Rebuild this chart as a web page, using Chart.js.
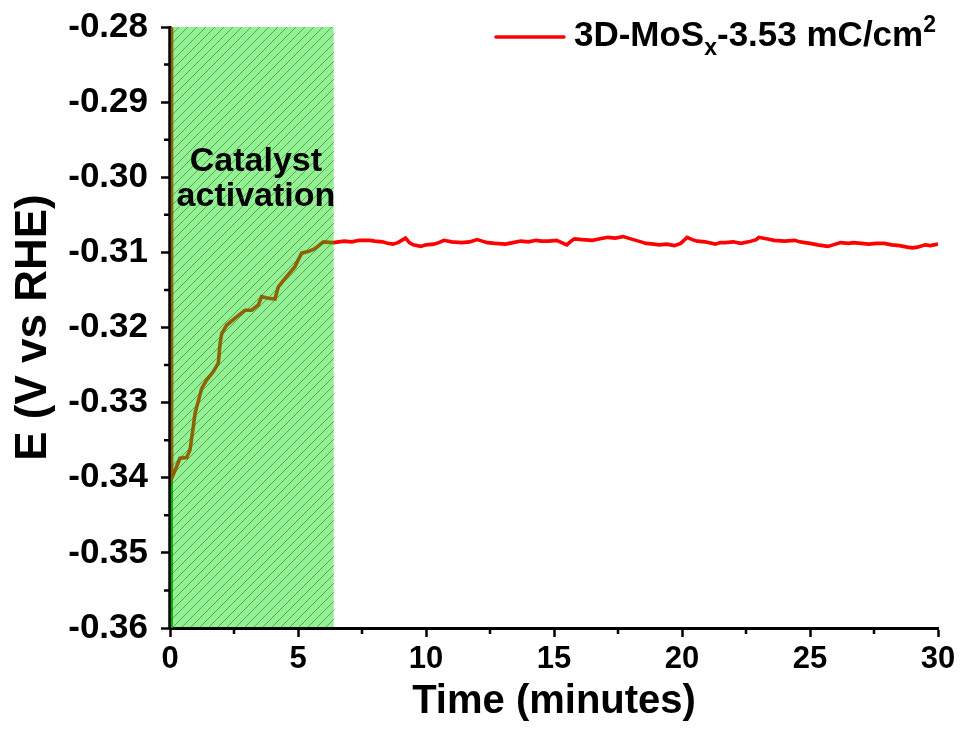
<!DOCTYPE html>
<html><head><meta charset="utf-8">
<script src="https://cdn.jsdelivr.net/npm/chart.js@4.4.1/dist/chart.umd.min.js"></script>
<style>html,body{margin:0;padding:0;background:#fff}canvas{display:block}</style>
</head><body>
<canvas id="c" width="961" height="732"></canvas>
<script>
// ---- data ----
const timeMin = [0.06, 0.06, 0.2, 0.39, 0.65, 0.78, 0.91, 0.98, 1.24, 1.43, 1.69, 1.89, 1.95, 2.02, 2.21, 2.60, 2.93, 3.19, 3.45, 3.58, 3.84, 4.10, 4.23, 4.56, 4.88, 5.14, 5.40, 5.66, 5.99, 6.38,
  6.6, 6.8, 7.1, 7.4, 7.8, 8.0, 8.3, 8.5, 8.7, 8.9, 9.1, 9.2, 9.35, 9.5, 9.8, 10.0, 10.3, 10.5, 10.7, 11.0, 11.4, 11.7, 12.0, 12.2, 12.4, 12.7, 13.1, 13.4, 13.7, 14.0, 14.3, 14.5, 14.8, 15.1, 15.3, 15.5, 15.7, 15.8, 16.1, 16.5, 16.8, 17.1, 17.4, 17.7, 18.0, 18.2, 18.4, 18.6, 18.9, 19.1, 19.4, 19.7, 19.95, 20.2, 20.4, 20.6, 20.9, 21.3, 21.5, 21.7, 22.0, 22.3, 22.6, 22.9, 23.0, 23.3, 23.6, 24.0, 24.4, 24.6, 24.8, 25.0, 25.3, 25.5, 25.7, 25.9, 26.2, 26.5, 26.7, 27.0, 27.3, 27.6, 27.9, 28.2, 28.5, 28.8, 29.0, 29.2, 29.5, 29.7, 30.0];
const potentialV = [-0.27, -0.3401, -0.3390, -0.3374, -0.3373, -0.3363, -0.3332, -0.3314, -0.3281, -0.3270, -0.3259, -0.3247, -0.3223, -0.3208, -0.3197, -0.3186, -0.3177, -0.3177, -0.3170, -0.3159, -0.3161, -0.3162, -0.3146, -0.3132, -0.3119, -0.3101, -0.3099, -0.3095, -0.3086, -0.3087,
  -0.3086, -0.3085, -0.3086, -0.3084, -0.3084, -0.3085, -0.3086, -0.3088, -0.3089, -0.3087, -0.3083, -0.3081, -0.3087, -0.3090, -0.3092, -0.3090, -0.3089, -0.3087, -0.3084, -0.3086, -0.3087, -0.3086, -0.3083, -0.3085, -0.3087, -0.3088, -0.3089, -0.3087, -0.3085, -0.3086, -0.3084, -0.3085, -0.3085, -0.3084, -0.3087, -0.3090, -0.3084, -0.3082, -0.3083, -0.3084, -0.3082, -0.3080, -0.3081, -0.3079, -0.3082, -0.3084, -0.3086, -0.3088, -0.3089, -0.3090, -0.3089, -0.3091, -0.3088, -0.3080, -0.3083, -0.3085, -0.3086, -0.3089, -0.3087, -0.3087, -0.3086, -0.3088, -0.3086, -0.3083, -0.3080, -0.3082, -0.3084, -0.3085, -0.3084, -0.3086, -0.3087, -0.3088, -0.3090, -0.3091, -0.3092, -0.3090, -0.3087, -0.3088, -0.3087, -0.3088, -0.3089, -0.3088, -0.3088, -0.3090, -0.3091, -0.3093, -0.3094, -0.3093, -0.3090, -0.3091, -0.3089];
const xTicks = [0, 5, 10, 15, 20, 25, 30];
const yTicks = [-0.36, -0.35, -0.34, -0.33, -0.32, -0.31, -0.30, -0.29, -0.28];
const xTitle = 'Time (minutes)';
const yTitle = 'E (V vs RHE)';
const legendParts = [['3D-MoS', 'n'], ['x', 'sub'], ['-3.53 mC/cm', 'n'], ['2', 'sup']];
const activationWindow = [0, 6.4];
const activationLabel = ['Catalyst', 'activation'];

// ---- drawing ----
const FONT = '"Liberation Sans", Arial, sans-serif';
const points = timeMin.map((t, i) => ({ x: t, y: potentialV[i] }));

function minorTicks(values) {
  const out = [];
  for (let i = 0; i < values.length - 1; i++) out.push((values[i] + values[i + 1]) / 2);
  return out;
}

const decor = {
  id: 'decor',
  beforeDatasetsDraw(chart) {
    const { ctx, scales: { x, y } } = chart;
    const x0 = x.getPixelForValue(activationWindow[0]);
    ctx.save();
    ctx.strokeStyle = '#0b8f0b';
    ctx.lineWidth = 2;
    ctx.beginPath();
    ctx.moveTo(x0 + 2, y.getPixelForValue(yTicks[0]));
    ctx.lineTo(x0 + 2, y.getPixelForValue(yTicks[yTicks.length - 1]));
    ctx.stroke();
    ctx.restore();
  },
  afterDatasetsDraw(chart) {
    const { ctx, scales: { x, y } } = chart;
    const x0 = x.getPixelForValue(activationWindow[0]);
    const x1 = x.getPixelForValue(activationWindow[1]);
    const yt = y.getPixelForValue(yTicks[yTicks.length - 1]);
    const yb = y.getPixelForValue(yTicks[0]) - 1;
    ctx.save();
    ctx.beginPath();
    ctx.rect(x0, yt, x1 - x0, yb - yt);
    ctx.clip();
    ctx.fillStyle = 'rgba(10,222,10,0.44)';
    ctx.fillRect(x0, yt, x1 - x0, yb - yt);
    ctx.strokeStyle = 'rgba(40,110,40,0.55)';
    ctx.lineWidth = 1;
    ctx.beginPath();
    const h = yb - yt;
    for (let sx = x0 - h; sx < x1 + 10; sx += 9) {
      ctx.moveTo(sx, yb);
      ctx.lineTo(sx + h, yt);
    }
    ctx.stroke();
    ctx.restore();
    // label
    ctx.save();
    ctx.fillStyle = '#000';
    ctx.font = 'bold 34px ' + FONT;
    ctx.textAlign = 'center';
    ctx.textBaseline = 'alphabetic';
    const cx = (x0 + x1) / 2 + 4;
    ctx.fillText(activationLabel[0], cx, 171);
    ctx.fillText(activationLabel[1], cx, 206);
    ctx.restore();
  },
  afterDraw(chart) {
    const { ctx, scales: { x, y }, chartArea } = chart;
    ctx.save();
    ctx.strokeStyle = '#000';
    // re-stroke left axis line above the overlay
    ctx.lineWidth = 2.5;
    ctx.beginPath();
    ctx.moveTo(chartArea.left - 0.5, chartArea.top);
    ctx.lineTo(chartArea.left - 0.5, chartArea.bottom);
    ctx.stroke();
    ctx.beginPath();
    minorTicks(xTicks).forEach(v => {
      const px = x.getPixelForValue(v);
      ctx.moveTo(px, chartArea.bottom);
      ctx.lineTo(px, chartArea.bottom + 6);
    });
    minorTicks(yTicks).forEach(v => {
      const py = y.getPixelForValue(v);
      ctx.moveTo(chartArea.left, py);
      ctx.lineTo(chartArea.left - 6, py);
    });
    ctx.stroke();
    // legend
    const baseY = 46;
    const big = 'bold 35px ' + FONT, small = 'bold 23px ' + FONT;
    let total = 0;
    legendParts.forEach(([t, m]) => { ctx.font = m === 'n' ? big : small; total += ctx.measureText(t).width; });
    let tx = chartArea.right - 2 - total;
    ctx.strokeStyle = '#ff0000';
    ctx.lineWidth = 3.5;
    ctx.lineCap = 'round';
    ctx.beginPath();
    ctx.moveTo(tx - 78, 37);
    ctx.lineTo(tx - 10, 37);
    ctx.stroke();
    ctx.fillStyle = '#000';
    ctx.textBaseline = 'alphabetic';
    ctx.textAlign = 'left';
    legendParts.forEach(([t, m]) => {
      ctx.font = m === 'n' ? big : small;
      const dy = m === 'sub' ? 9 : (m === 'sup' ? -14 : 0);
      ctx.fillText(t, tx, baseY + dy);
      tx += ctx.measureText(t).width;
    });
    ctx.restore();
  }
};

new Chart(document.getElementById('c'), {
  type: 'line',
  data: {
    datasets: [{
      label: legendParts.map(p => p[0]).join(''),
      data: points,
      borderColor: '#ff0000',
      borderWidth: 3.6,
      pointRadius: 0,
      tension: 0,
      fill: false
    }]
  },
  options: {
    responsive: false,
    animation: false,
    layout: { padding: { left: 0, top: 27, right: 23, bottom: 0 } },
    plugins: { legend: { display: false }, tooltip: { enabled: false } },
    scales: {
      x: {
        type: 'linear',
        min: xTicks[0], max: xTicks[xTicks.length - 1],
        afterBuildTicks: s => { s.ticks = xTicks.map(v => ({ value: v })); },
        afterFit: s => { s.height = 104; s.paddingLeft = 0; s.paddingRight = 0; },
        grid: { drawOnChartArea: false, drawTicks: true, tickLength: 9, tickWidth: 2.5, tickColor: '#000' },
        border: { display: true, color: '#000', width: 3 },
        ticks: { color: '#000', font: { family: FONT, weight: 'bold', size: 31 }, padding: 4, maxRotation: 0, callback: v => String(v) },
        title: { display: true, text: xTitle, color: '#000', font: { family: FONT, weight: 'bold', size: 40 }, padding: { top: 0, bottom: 6 } }
      },
      y: {
        type: 'linear',
        min: yTicks[0], max: yTicks[yTicks.length - 1],
        afterBuildTicks: s => { s.ticks = yTicks.map(v => ({ value: v })); },
        afterFit: s => { s.width = 170; s.paddingTop = 0; s.paddingBottom = 0; },
        grid: { drawOnChartArea: false, drawTicks: true, tickLength: 9, tickWidth: 2.5, tickColor: '#000' },
        border: { display: true, color: '#000', width: 2.5 },
        ticks: { color: '#000', font: { family: FONT, weight: 'bold', size: 35 }, padding: 13, callback: v => v.toFixed(2) },
        title: { display: true, text: yTitle, color: '#000', font: { family: FONT, weight: 'bold', size: 44 }, padding: { top: 7, bottom: 0 } }
      }
    }
  },
  plugins: [decor]
});
</script>
</body></html>
